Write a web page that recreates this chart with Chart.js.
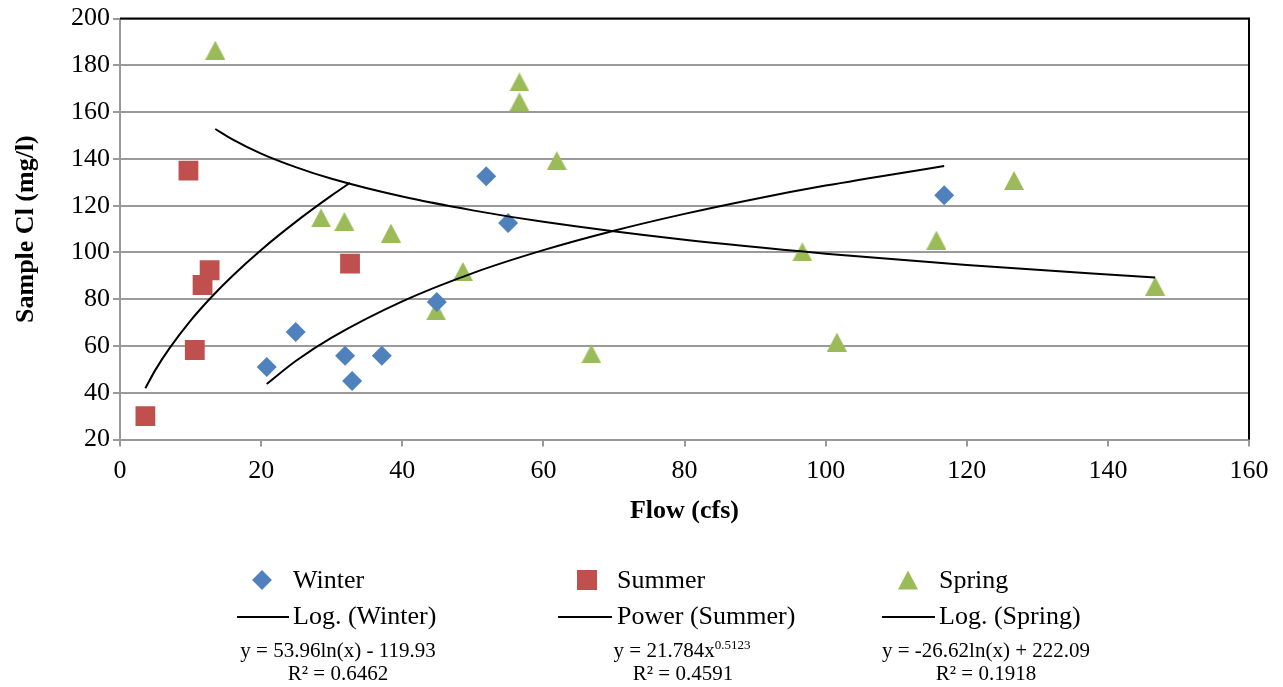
<!DOCTYPE html>
<html>
<head>
<meta charset="utf-8">
<title>Sample Cl vs Flow</title>
<script src="https://cdn.jsdelivr.net/npm/chart.js@4.4.1/dist/chart.umd.min.js"></script>
<style>
  html, body { margin: 0; padding: 0; background: #fff; }
  #wrap { position: relative; width: 1283px; height: 687px; font-family: "Liberation Serif", "Times New Roman", serif; color: #000; }
  #chart { position: absolute; left: 0; top: 0; }
  .lg { position: absolute; white-space: nowrap; line-height: 1; }
  .name { font-size: 26px; transform: translateY(-50%); }
  .eq { font-size: 21px; transform: translate(-50%, -50%); }
  .eq sup { font-size: 13px; vertical-align: 8px; line-height: 0; }
  .bar { position: absolute; height: 2px; background: #000; }
  .dia { position: absolute; width: 14px; height: 14px; background: #4F81BD; transform: translate(-50%, -50%) rotate(45deg); }
  .sq { position: absolute; width: 20px; height: 20px; background: #C0504D; transform: translate(-50%, -50%); }
  .tri { position: absolute; width: 0; height: 0; border-left: 10px solid transparent; border-right: 10px solid transparent; border-bottom: 19px solid #9BBB59; transform: translate(-50%, -50%); }
</style>
</head>
<body>
<div id="wrap">
  <canvas id="chart" width="1283" height="687"></canvas>

  <!-- legend, row 1: markers -->
  <div class="dia" style="left:262px; top:580px;"></div>
  <div class="lg name" style="left:293px; top:580px;">Winter</div>
  <div class="sq" style="left:587px; top:580px;"></div>
  <div class="lg name" style="left:617px; top:580px;">Summer</div>
  <div class="tri" style="left:908px; top:580px;"></div>
  <div class="lg name" style="left:939px; top:580px;">Spring</div>

  <!-- row 2: trendlines -->
  <div class="bar" style="left:237px; width:52px; top:616px;"></div>
  <div class="lg name" style="left:293px; top:616px;">Log. (Winter)</div>
  <div class="bar" style="left:558px; width:54px; top:616px;"></div>
  <div class="lg name" style="left:617px; top:616px;">Power (Summer)</div>
  <div class="bar" style="left:882px; width:53px; top:616px;"></div>
  <div class="lg name" style="left:939px; top:616px;">Log. (Spring)</div>

  <!-- equations -->
  <div class="lg eq" style="left:338px; top:650px;">y = 53.96ln(x) - 119.93</div>
  <div class="lg eq" style="left:338px; top:673px;">R² = 0.6462</div>
  <div class="lg eq" style="left:682px; top:650px;">y = 21.784x<sup>0.5123</sup></div>
  <div class="lg eq" style="left:683px; top:673px;">R² = 0.4591</div>
  <div class="lg eq" style="left:986px; top:650px;">y = -26.62ln(x) + 222.09</div>
  <div class="lg eq" style="left:986px; top:673px;">R² = 0.1918</div>
</div>

<script>
// --- data ---
const winterFlow = [20.8, 24.9, 31.9, 32.9, 37.1, 44.9, 51.9, 55.0, 116.8];
const winterCl   = [51.0, 66.0, 55.8, 45.1, 55.8, 78.8, 132.6, 112.6, 124.5];

const summerFlow = [3.6, 9.7, 10.6, 11.7, 12.7, 32.6];
const summerCl   = [30.0, 135.0, 58.3, 86.1, 92.4, 95.2];

const springFlow = [13.5, 28.5, 31.8, 38.4, 44.8, 48.6, 56.6, 56.6, 61.9, 66.8, 96.7, 101.6, 115.7, 126.7, 146.7];
const springCl   = [186.5, 114.8, 113.3, 108.3, 75.0, 91.9, 172.9, 164.4, 139.3, 56.7, 100.3, 61.7, 105.3, 130.8, 85.6];

// trendlines
const winterTrendX = [20.8, 25, 30, 40, 50, 60, 70, 80, 90, 100, 116.8];
const winterTrendY = [43.8, 53.8, 63.6, 79.1, 91.2, 101.0, 109.3, 116.5, 122.9, 128.6, 137.0];

const summerTrendX = [3.6, 5, 7, 10, 13, 16, 20, 25, 30, 32.6];
const summerTrendY = [42.0, 49.7, 59.0, 70.9, 81.1, 90.2, 101.1, 113.3, 124.4, 129.8];

const springTrendX = [13.5, 16, 20, 25, 30, 40, 50, 60, 80, 100, 120, 146.7];
const springTrendY = [152.8, 148.3, 142.3, 136.4, 131.5, 123.9, 118.0, 113.1, 105.4, 99.5, 94.6, 89.3];

const xTicks = [0, 20, 40, 60, 80, 100, 120, 140, 160];
const yTicks = [20, 40, 60, 80, 100, 120, 140, 160, 180, 200];

function pairs(xs, ys) {
  return xs.map((x, i) => ({ x: x, y: ys[i] }));
}

document.addEventListener('DOMContentLoaded', function () {
  // triangle marker, centred on its bounding box like the Excel one
  const tri = document.createElement('canvas');
  tri.width = 20;
  tri.height = 19;
  const tctx = tri.getContext('2d');
  tctx.fillStyle = '#9BBB59';
  tctx.beginPath();
  tctx.moveTo(10, 0);
  tctx.lineTo(20, 19);
  tctx.lineTo(0, 19);
  tctx.closePath();
  tctx.fill();

  const trend = (xs, ys) => ({
    data: pairs(xs, ys),
    showLine: true,
    borderColor: '#000',
    borderWidth: 2,
    pointRadius: 0,
    pointHoverRadius: 0,
    cubicInterpolationMode: 'monotone',
    fill: false
  });

  // top and right edge of the plot are black
  const frame = {
    id: 'frame',
    beforeDatasetsDraw(chart) {
      const a = chart.chartArea;
      const c = chart.ctx;
      c.save();
      c.strokeStyle = '#000';
      c.lineWidth = 2;
      c.beginPath();
      c.moveTo(a.left, a.top);
      c.lineTo(a.right, a.top);
      c.lineTo(a.right, a.bottom);
      c.stroke();
      c.restore();
    }
  };

  const ctx = document.getElementById('chart').getContext('2d');
  new Chart(ctx, {
    type: 'scatter',
    data: {
      datasets: [
        trend(winterTrendX, winterTrendY),
        trend(summerTrendX, summerTrendY),
        trend(springTrendX, springTrendY),
        {
          label: 'Winter',
          data: pairs(winterFlow, winterCl),
          pointStyle: 'rectRot',
          pointRadius: 10,
          backgroundColor: '#4F81BD',
          borderColor: '#4F81BD',
          borderWidth: 0
        },
        {
          label: 'Summer',
          data: pairs(summerFlow, summerCl),
          pointStyle: 'rect',
          pointRadius: 14,
          backgroundColor: '#C0504D',
          borderColor: '#C0504D',
          borderWidth: 0
        },
        {
          label: 'Spring',
          data: pairs(springFlow, springCl),
          pointStyle: tri,
          pointRadius: 10
        }
      ]
    },
    options: {
      responsive: false,
      animation: false,
      layout: { padding: { left: 0, right: 34, top: 17, bottom: 156 } },
      plugins: {
        legend: { display: false },
        tooltip: { enabled: false }
      },
      scales: {
        x: {
          type: 'linear',
          min: xTicks[0],
          max: xTicks[xTicks.length - 1],
          afterBuildTicks: scale => { scale.ticks = xTicks.map(v => ({ value: v })); },
          ticks: { color: '#000', font: { family: 'Liberation Serif', size: 26 }, padding: 9 },
          grid: { drawOnChartArea: false, drawTicks: true, tickLength: 7, color: '#999', lineWidth: 2 },
          border: { display: true, color: '#999', width: 2 },
          title: {
            display: true,
            text: 'Flow (cfs)',
            color: '#000',
            font: { family: 'Liberation Serif', size: 26, weight: 'bold' },
            padding: { top: 0, bottom: 4 }
          }
        },
        y: {
          type: 'linear',
          min: yTicks[0],
          max: yTicks[yTicks.length - 1],
          afterBuildTicks: scale => { scale.ticks = yTicks.map(v => ({ value: v })); },
          afterFit: scale => { scale.width = 120; },
          ticks: { color: '#000', font: { family: 'Liberation Serif', size: 26 }, padding: 3 },
          grid: { color: '#9a9a9a', lineWidth: 2, tickLength: 7 },
          border: { display: true, color: '#999', width: 2 },
          title: {
            display: true,
            text: 'Sample Cl (mg/l)',
            color: '#000',
            font: { family: 'Liberation Serif', size: 26, weight: 'bold' },
            padding: { top: 11, bottom: 0 }
          }
        }
      }
    },
    plugins: [frame]
  });
});
</script>
</body>
</html>
